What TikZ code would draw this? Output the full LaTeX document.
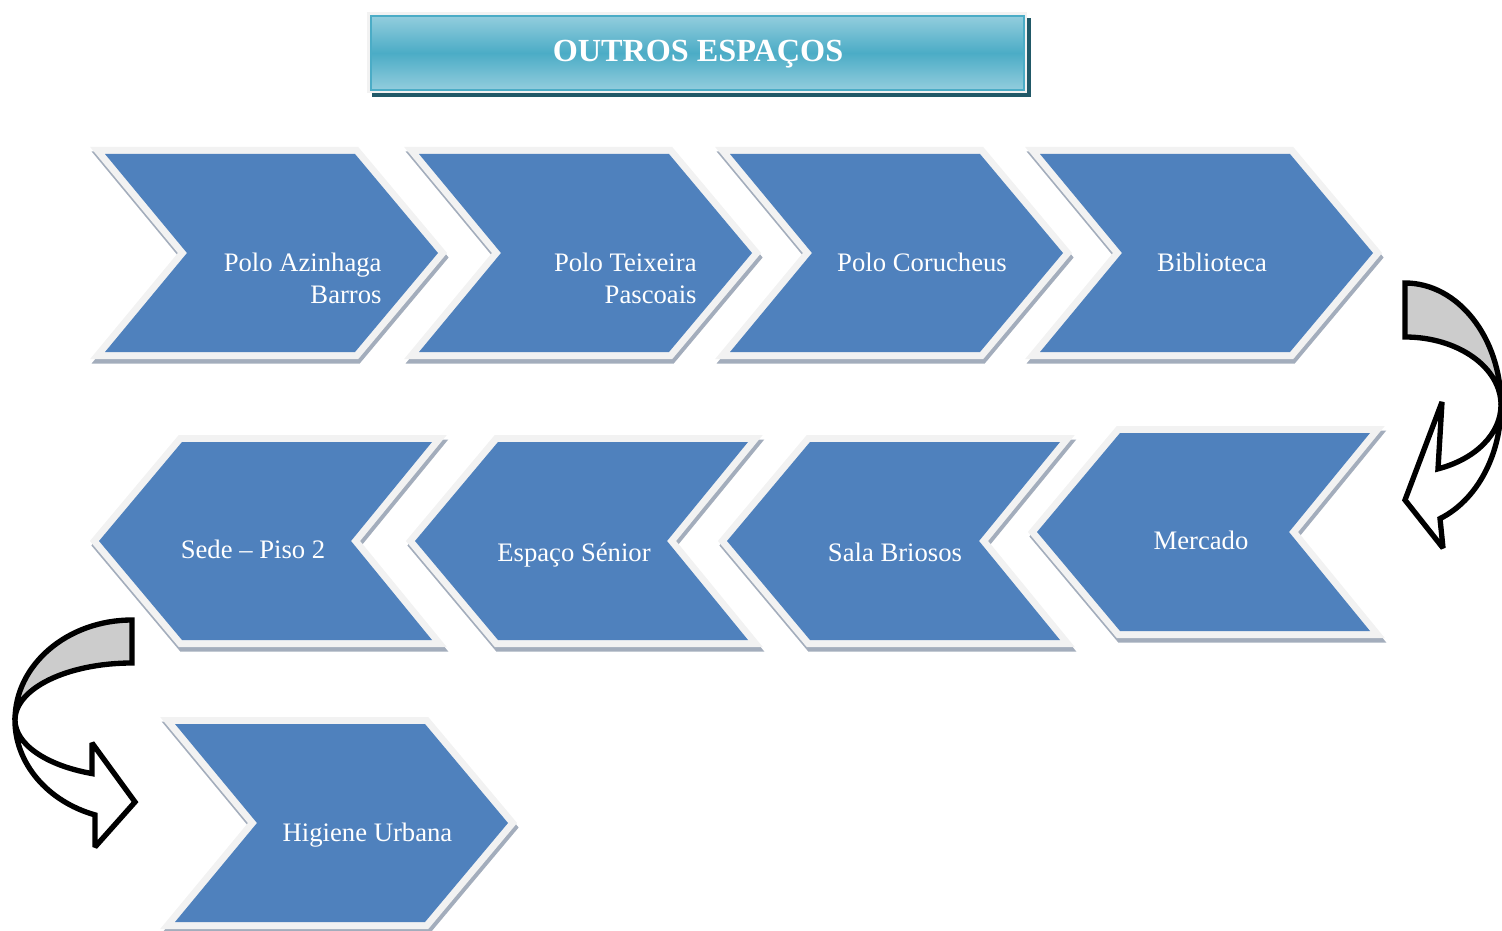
\documentclass[tikz,border=0pt]{standalone}
\usepackage{fontspec}
\setmainfont{Liberation Serif}
\definecolor{chevblue}{HTML}{4F81BD}
\definecolor{chevrim}{HTML}{F2F2F2}
\definecolor{chevshade}{HTML}{A3ADBC}
\definecolor{titlelight}{HTML}{93CDDD}
\definecolor{titlemid}{HTML}{4BACC6}
\definecolor{titledark}{HTML}{215968}
\definecolor{bendgrey}{HTML}{CCCCCC}

\begin{document}
\begin{tikzpicture}[
  x=0.45pt, y=-0.45pt,
  every node/.style = {inner sep=0pt, text=white,
    font=\fontsize{12}{14.4}\selectfont},
  chev r/.style = {insert path={-- ++(250,0) -- ++(83,99) -- ++(-83,99)
    -- ++(-250,0) -- ++(82,-99) -- cycle}},
  chev l/.style = {insert path={-- ++(250,0) -- ++(-81,99) -- ++(81,99)
    -- ++(-250,0) -- ++(-83,-99) -- cycle}},
  chevron shade/.style = {draw=chevshade, fill=chevshade, line width=6.3pt},
  chevron rim/.style = {draw=chevrim, fill=chevblue, line width=6.3pt},
  chevron fill/.style = {fill=chevblue},
  pics/chev right/.style = {code={
    \path[chevron shade] (1.5,4.5) [chev r];
    \path[chevron rim] (0,0) [chev r];
    \path[chevron fill] (0,0) [chev r];
  }},
  pics/chev left/.style = {code={
    \path[chevron shade] (1.5,4.5) [chev l];
    \path[chevron rim] (0,0) [chev l];
    \path[chevron fill] (0,0) [chev l];
  }},
  bend back/.style = {draw=black, fill=bendgrey, line width=2.4pt, miter limit=2.5},
  bend front/.style = {draw=black, fill=white, line width=2.4pt, miter limit=2.5}]
  \tikzstyle{right label}=[anchor=east, align=right]
  \tikzstyle{base label}=[anchor=base]
  \useasboundingbox (0,0) rectangle (1502,931);

  % title bar
  \fill[titledark] (372,18) rectangle (1031,97);
  \fill[chevrim] (367,12) rectangle (1027,93);
  \shadedraw[top color=titlelight, bottom color=titlelight, middle color=titlemid,
    draw=titlemid, line width=1pt] (371,16) rectangle (1024,90);
  \node[base label, font=\bfseries\fontsize{14.5}{17}\selectfont] (title)
    at (698,61.7) {OUTROS ESPAÇOS};

  % first row
  \pic at (105,154) {chev right};
  \pic at (419,154) {chev right};
  \pic at (730,154) {chev right};
  \pic at (1040,154) {chev right};
  \node[right label] (azinhaga) at (382,278) {Polo Azinhaga\\Barros};
  \node[right label] (teixeira) at (697,278) {Polo Teixeira\\Pascoais};
  \node[base label] (corucheus) at (922,272) {Polo Corucheus};
  \node[base label] (biblioteca) at (1212,272) {Biblioteca};

  % second row
  \pic at (1120,433) {chev left};
  \pic at (810,442) {chev left};
  \pic at (498,442) {chev left};
  \pic at (182,442) {chev left};
  \node[base label] (mercado) at (1201,549) {Mercado};
  \node[base label] (briosos) at (895,561.5) {Sala Briosos};
  \node[base label] (senior) at (574,561.5) {Espaço Sénior};
  \node[base label] (sede) at (253,558) {Sede -- Piso 2};

  % third row
  \pic at (175,724) {chev right};
  \node[base label] (higiene) at (367.5,841) {Higiene Urbana};

  % bend down on the right
  \path[bend back] (1405,283) arc[start angle=-90, end angle=0, x radius=96, y radius=122]
    arc[start angle=0, end angle=-90, x radius=96, y radius=68] -- cycle;
  \path[bend front] (1501,405) arc[start angle=0, end angle=69.9, x radius=96, y radius=68]
    -- (1442,402) -- (1405,500) -- (1443,548) -- (1440,518.6)
    arc[start angle=68.6, end angle=0, x radius=96, y radius=122] -- cycle;

  % bend down on the left
  \path[bend back] (132,620) arc[start angle=-90, end angle=-180, x radius=117, y radius=100]
    arc[start angle=180, end angle=270, x radius=117, y radius=57] -- cycle;
  \path[bend front] (15,720) arc[start angle=180, end angle=110, x radius=117, y radius=57]
    -- (92,743) -- (135,802) -- (95,847) -- (95,814.9)
    arc[start angle=108.4, end angle=180, x radius=117, y radius=100] -- cycle;
\end{tikzpicture}
\end{document}
